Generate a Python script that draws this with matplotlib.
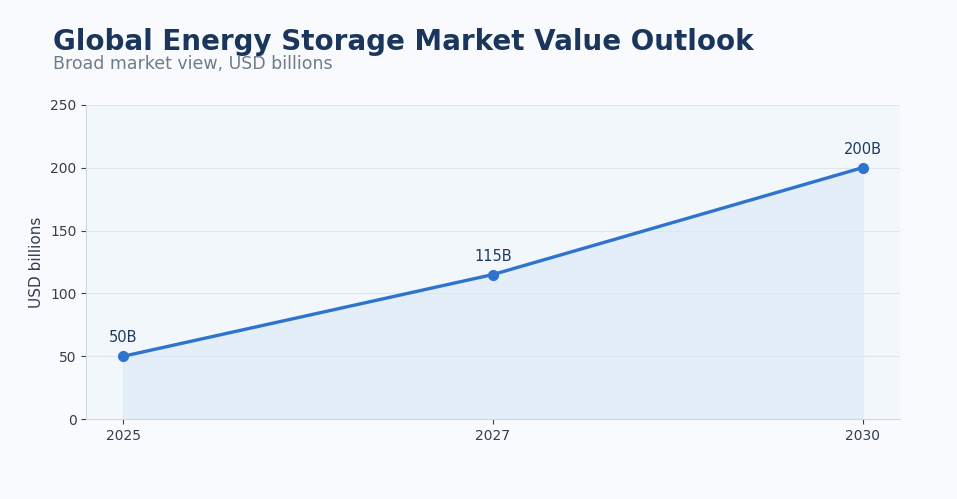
import matplotlib.pyplot as plt
import numpy as np


def visualize_outlook(years: list, values: np.ndarray) -> None:
    fig = plt.figure(figsize=(9.57, 4.99), dpi=100, facecolor="#f8fafd")
    ax = fig.add_axes([0.090, 0.160, 0.850, 0.630])
    ax.set_facecolor("#f2f7fc")
    positions = np.arange(len(years))

    ax.fill_between(positions, values, 0, color="#d9e9f7", alpha=0.6, zorder=1)
    ax.plot(positions, values, color="#2e74cf", linewidth=2.4, marker="o", markersize=7, zorder=3)
    for x, y in zip(positions, values):
        ax.annotate(f"{y:.0f}B", (x, y), xytext=(0, 10), textcoords="offset points",
                    ha="center", fontsize=10.5, color="#1e3a5f")

    ax.set_xticks(positions)
    ax.set_xticklabels(years)
    ax.set_xlim(-0.1, 2.1)
    ax.set_ylim(0, 250)
    ax.set_yticks(range(0, 251, 50))
    ax.set_ylabel("USD billions", fontsize=11, color="#333f4d")
    ax.grid(axis="y", color="#dde6f0", linewidth=0.8)
    ax.set_axisbelow(True)
    ax.tick_params(colors="#333f4d", labelsize=10)
    for side in ("top", "right"):
        ax.spines[side].set_visible(False)
    for side in ("left", "bottom"):
        ax.spines[side].set_color("#cfd8e3")

    fig.text(0.055, 0.900, "Global Energy Storage Market Value Outlook",
             fontsize=20, fontweight="bold", color="#1b365d")
    fig.text(0.055, 0.862, "Broad market view, USD billions", fontsize=12.5, color="#6f7c8a")


if __name__ == "__main__":
    years = ["2025", "2027", "2030"]
    values = np.array([50, 115, 200])

    visualize_outlook(years, values)
    plt.savefig("out.png", dpi=100)
